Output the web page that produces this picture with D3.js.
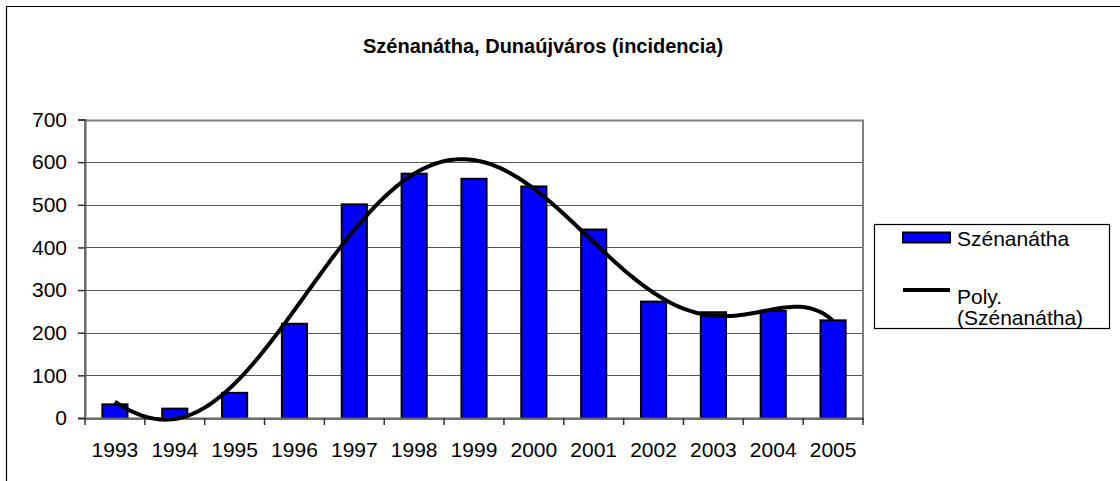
<!DOCTYPE html>
<html>
<head>
<meta charset="utf-8">
<script src="https://cdn.jsdelivr.net/npm/d3@7"></script>
<style>
  body { margin: 0; background: #fff; }
  text { font-family: Arial, "Liberation Sans", sans-serif; }
</style>
</head>
<body>
<script>
const years = ["1993", "1994", "1995", "1996", "1997", "1998", "1999",
  "2000", "2001", "2002", "2003", "2004", "2005"];
const values = [32, 22, 59, 221, 501, 573, 561, 543, 442, 273, 248, 251, 229];
const yTicks = [0, 100, 200, 300, 400, 500, 600, 700];
const title = "Szénanátha, Dunaújváros (incidencia)";
const seriesName = "Szénanátha";
const trendName = ["Poly.", "(Szénanátha)"];

const width = 1120;
const height = 481;
const margin = { left: 85, right: 257, top: 119.5, bottom: 63 };

// least squares polynomial, like the spreadsheet trendline
const polyFit = (ys, order) => {
  const n = ys.length;
  const xs = ys.map((d, i) => (i + 1 - (n + 1) / 2) / ((n - 1) / 2));
  const m = order + 1;
  const A = d3.range(m).map(r => d3.range(m + 1).map(c => 0));
  xs.forEach((x, i) => {
    for (let r = 0; r < m; r++) {
      for (let c = 0; c < m; c++) A[r][c] += Math.pow(x, r + c);
      A[r][m] += ys[i] * Math.pow(x, r);
    }
  });
  for (let p = 0; p < m; p++) {
    let best = p;
    for (let r = p + 1; r < m; r++) if (Math.abs(A[r][p]) > Math.abs(A[best][p])) best = r;
    [A[p], A[best]] = [A[best], A[p]];
    for (let r = 0; r < m; r++) {
      if (r === p) continue;
      const f = A[r][p] / A[p][p];
      for (let c = p; c <= m; c++) A[r][c] -= f * A[p][c];
    }
  }
  const coef = A.map((row, i) => row[m] / row[i]);
  return i => {
    const x = (i + 1 - (n + 1) / 2) / ((n - 1) / 2);
    return coef.reduce((s, c, k) => s + c * Math.pow(x, k), 0);
  };
};

const svg = d3.select("body")
  .append("svg")
  .attr("width", width)
  .attr("height", height);

// chart area border (only top and left visible in the original)
svg.append("path")
  .attr("d", `M6.5,${height}V6.5H${width}`)
  .attr("fill", "none")
  .attr("stroke", "#000")
  .attr("stroke-width", 1.2);

svg.append("text")
  .attr("x", 543)
  .attr("y", 53)
  .attr("text-anchor", "middle")
  .attr("font-size", 20)
  .attr("font-weight", "bold")
  .text(title);

const x = d3.scaleBand()
  .domain(years)
  .range([margin.left, width - margin.right]);

const y = d3.scaleLinear()
  .domain([0, 700])
  .range([height - margin.bottom, margin.top]);

// gridlines
svg.append("g")
  .selectAll("line")
  .data(yTicks.slice(1))
  .join("line")
  .attr("x1", margin.left)
  .attr("x2", width - margin.right)
  .attr("y1", d => Math.round(y(d)) + 0.5)
  .attr("y2", d => Math.round(y(d)) + 0.5)
  .attr("stroke", "#555")
  .attr("stroke-width", 1.2);

// plot area border
svg.append("rect")
  .attr("x", margin.left)
  .attr("y", Math.round(y(700)) + 0.5)
  .attr("width", width - margin.right - margin.left)
  .attr("height", y(0) - y(700))
  .attr("fill", "none")
  .attr("stroke", "#808080")
  .attr("stroke-width", 2);

// bars
const barW = x.bandwidth() * 0.42;
svg.append("g")
  .selectAll("rect")
  .data(values)
  .join("rect")
  .attr("x", (d, i) => x(years[i]) + x.bandwidth() / 2 - barW / 2)
  .attr("y", d => y(d))
  .attr("width", barW)
  .attr("height", d => y(0) - y(d))
  .attr("fill", "#0000ff")
  .attr("stroke", "#000")
  .attr("stroke-width", 2);

// axes
const yAxis = svg.append("g")
  .attr("transform", `translate(${margin.left},0)`)
  .call(d3.axisLeft(y).tickValues(yTicks).tickSize(7).tickPadding(11));
const xAxis = svg.append("g")
  .attr("transform", `translate(0,${y(0)})`)
  .call(d3.axisBottom(x).tickSize(0).tickPadding(24));

[yAxis, xAxis].forEach(g => {
  g.select(".domain").attr("stroke", "#666").attr("stroke-width", 2);
  g.selectAll(".tick line").attr("stroke", "#333").attr("stroke-width", 1.5);
  g.selectAll("text")
    .attr("font-size", 21)
    .attr("font-family", "Arial, 'Liberation Sans', sans-serif")
    .attr("fill", "#000");
});

// category tick marks sit between the bars
svg.append("g")
  .selectAll("line")
  .data(years.concat(["end"]))
  .join("line")
  .attr("x1", (d, i) => margin.left + i * x.step())
  .attr("x2", (d, i) => margin.left + i * x.step())
  .attr("y1", y(0))
  .attr("y2", y(0) + 7)
  .attr("stroke", "#333")
  .attr("stroke-width", 1.5);

// polynomial trend (order 6)
const xc = i => x(years[0]) + x.bandwidth() / 2 + i * x.step();
const fit = polyFit(values, 6);
const samples = d3.range(0, values.length - 1 + 1e-9, 0.05);

svg.append("path")
  .attr("d", d3.line().x(t => xc(t)).y(t => y(fit(t)))(samples))
  .attr("fill", "none")
  .attr("stroke", "#000")
  .attr("stroke-width", 4);

// legend
const lg = svg.append("g");
lg.append("rect")
  .attr("x", 874.5)
  .attr("y", 224.5)
  .attr("width", 235)
  .attr("height", 104)
  .attr("fill", "#fff")
  .attr("stroke", "#000")
  .attr("stroke-width", 1.2);
lg.append("rect")
  .attr("x", 903)
  .attr("y", 232.5)
  .attr("width", 47)
  .attr("height", 10)
  .attr("fill", "#0000ff")
  .attr("stroke", "#000")
  .attr("stroke-width", 2);
lg.append("text")
  .attr("x", 957)
  .attr("y", 246)
  .attr("font-size", 21)
  .text(seriesName);
lg.append("line")
  .attr("x1", 903)
  .attr("x2", 950)
  .attr("y1", 290)
  .attr("y2", 290)
  .attr("stroke", "#000")
  .attr("stroke-width", 4);
lg.selectAll("text.trend")
  .data(trendName)
  .join("text")
  .attr("class", "trend")
  .attr("x", 957)
  .attr("y", (d, i) => 304 + i * 21)
  .attr("font-size", 21)
  .text(d => d);
</script>
</body>
</html>
